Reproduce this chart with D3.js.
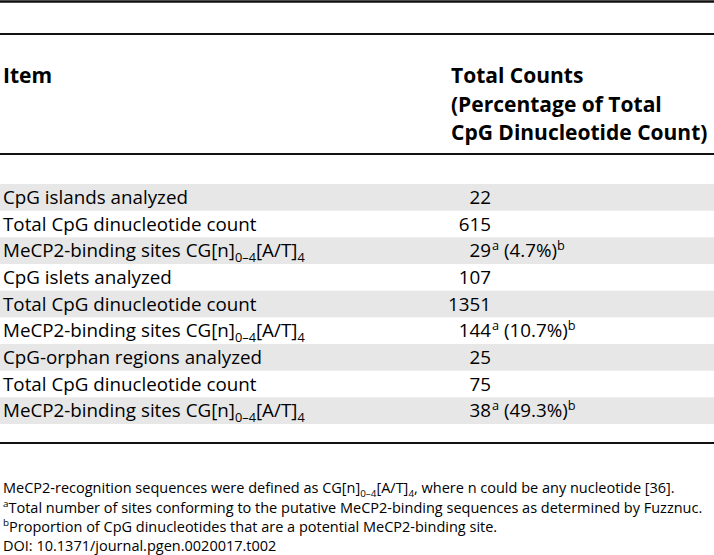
<!DOCTYPE html>
<html><head><meta charset="utf-8">
<script src="https://cdn.jsdelivr.net/npm/d3@7"></script>
<style>html,body{margin:0;padding:0;background:#fff;}svg{display:block;}</style>
</head><body>
<svg id="c" width="714" height="555"></svg>
<script>
const headerItem = "Item";
const headerValue = ["Total Counts", "(Percentage of Total", "CpG Dinucleotide Count)"];
const itemLabels = [
  "CpG islands analyzed",
  "Total CpG dinucleotide count",
  "MeCP2-binding sites CG[n]_{0–4}[A/T]_{4}",
  "CpG islets analyzed",
  "Total CpG dinucleotide count",
  "MeCP2-binding sites CG[n]_{0–4}[A/T]_{4}",
  "CpG-orphan regions analyzed",
  "Total CpG dinucleotide count",
  "MeCP2-binding sites CG[n]_{0–4}[A/T]_{4}"
];
const totalCounts = [22, 615, 29, 107, 1351, 144, 25, 75, 38];
const percentages = [null, null, "4.7%", null, null, "10.7%", null, null, "49.3%"];
const footnotes = [
  "MeCP2-recognition sequences were defined as CG[n]_{0–4}[A/T]_{4}, where n could be any nucleotide [36].",
  "^{a}Total number of sites conforming to the putative MeCP2-binding sequences as determined by Fuzznuc.",
  "^{b}Proportion of CpG dinucleotides that are a potential MeCP2-binding site.",
  "DOI: 10.1371/journal.pgen.0020017.t002"
];

const W = 714, H = 555;
const FONT = "'Open Sans', 'DejaVu Sans', sans-serif";
const svg = d3.select("#c").attr("font-family", FONT).attr("fill", "#000");

const rowScale = d3.scaleBand().domain(d3.range(itemLabels.length)).range([184, 424]).padding(0);
const valueRight = 491;
const col2X = 451;

// rich text: _{..} subscript, ^{..} superscript
function rich(sel, str, size) {
  const parts = [];
  const re = /([_^])\{([^}]*)\}/g;
  let last = 0, m;
  while ((m = re.exec(str))) {
    if (m.index > last) parts.push({t: str.slice(last, m.index), k: "n"});
    parts.push({t: m[2], k: m[1] === "_" ? "sub" : "sup"});
    last = re.lastIndex;
  }
  if (last < str.length) parts.push({t: str.slice(last), k: "n"});
  let cur = 0;
  parts.forEach(p => {
    const target = p.k === "sub" ? size * 0.28 : p.k === "sup" ? -size * 0.38 : 0;
    const ts = sel.append("tspan").text(p.t).attr("dy", target - cur);
    if (p.k !== "n") ts.attr("font-size", size * 0.68);
    cur = target;
  });
}

// rules
const rules = [{y: 1.5, w: 2.5}, {y: 34, w: 2}, {y: 154, w: 2}, {y: 443, w: 2}];
svg.selectAll("line.rule").data(rules).join("line").attr("class", "rule")
  .attr("x1", 0).attr("x2", W).attr("y1", d => d.y).attr("y2", d => d.y)
  .attr("stroke", "#111").attr("stroke-width", d => d.w);

// row bands
svg.selectAll("rect.band").data(d3.range(itemLabels.length).filter(i => i % 2 === 0)).join("rect")
  .attr("class", "band").attr("x", 0).attr("width", W)
  .attr("y", i => rowScale(i)).attr("height", rowScale.bandwidth())
  .attr("fill", "#e7e7e7");

// header
const hSize = 21;
svg.append("text").attr("x", 3).attr("y", 83).attr("font-weight", "bold").attr("font-size", hSize).text(headerItem);
svg.selectAll("text.hv").data(headerValue).join("text").attr("class", "hv")
  .attr("x", col2X).attr("y", (d, i) => 83 + i * 28.5).attr("font-weight", "bold").attr("font-size", hSize).text(d => d);

// body
const bSize = 18.8;
const rows = svg.selectAll("g.row").data(itemLabels).join("g").attr("class", "row")
  .attr("transform", (d, i) => `translate(0,${rowScale(i) + rowScale.bandwidth() / 2 + 6.5})`);
rows.append("text").attr("x", 3).attr("font-size", bSize).each(function(d) { rich(d3.select(this), d, bSize); });
rows.append("text").attr("x", valueRight).attr("text-anchor", "end").attr("font-size", bSize).text((d, i) => totalCounts[i]);
rows.each(function(d, i) {
  if (percentages[i] === null) return;
  const t = d3.select(this).append("text").attr("x", valueRight + 1).attr("font-size", bSize);
  rich(t, "^{a} (" + percentages[i] + ")^{b}", bSize);
});

// footnotes
const fSize = 14.5;
const fY = [493, 513, 532, 551];
svg.selectAll("text.fn").data(footnotes).join("text").attr("class", "fn")
  .attr("x", 3).attr("y", (d, i) => fY[i]).attr("font-size", fSize)
  .each(function(d) { rich(d3.select(this), d, fSize); });
</script>
</body></html>
